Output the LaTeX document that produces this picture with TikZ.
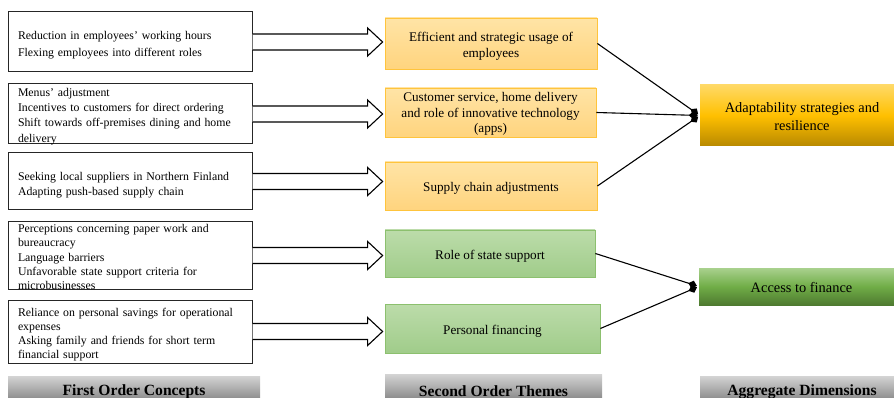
\documentclass[tikz,border=0pt]{standalone}
\usepackage{fontspec}
\setmainfont{Liberation Serif}
\usetikzlibrary{calc,arrows.meta}
\definecolor{orTop}{RGB}{255,228,166}
\definecolor{orBot}{RGB}{255,212,126}
\definecolor{orLine}{RGB}{255,196,60}
\definecolor{grTop}{RGB}{188,220,170}
\definecolor{grBot}{RGB}{160,204,138}
\definecolor{grLine}{RGB}{140,192,110}
\definecolor{adTop}{RGB}{255,217,102}
\definecolor{adMid}{RGB}{255,192,0}
\definecolor{adBot}{RGB}{184,137,0}
\definecolor{acTop}{RGB}{169,209,142}
\definecolor{acMid}{RGB}{112,173,71}
\definecolor{acBot}{RGB}{78,122,48}
\definecolor{hdTop}{RGB}{212,212,212}
\definecolor{hdBot}{RGB}{112,112,112}
\tikzset{
  concept/.style={draw=black!85, line width=1pt, rectangle, minimum width=244pt, inner sep=0pt},
  ctext/.style={text width=224pt, inner sep=0pt, align=left, font=\fontsize{11.8}{15.3}\selectfont},
  theme/.style={rectangle, draw, line width=0.8pt, inner sep=0pt},
  ttext/.style={inner sep=0pt, align=center, font=\fontsize{13.2}{15.5}\selectfont},
  orangebox/.style={theme, draw=orLine, top color=orTop, bottom color=orBot},
  greenbox/.style={theme, draw=grLine, top color=grTop, bottom color=grBot},
  aggr/.style={rectangle, inner sep=0pt, align=center, font=\fontsize{14.4}{18}\selectfont},
  header/.style={rectangle, inner sep=0pt, top color=hdTop, bottom color=hdBot, font=\bfseries\fontsize{15.6}{18}\selectfont},
  blockarr/.style={draw=black, line width=1.1pt, fill=white, line join=miter},
  conn/.style={draw=black, line width=1.1pt, -{Diamond[length=9pt,width=8pt]}, shorten >=2pt}
}
\begin{document}
\begin{tikzpicture}[x=1pt,y=-1pt]
\useasboundingbox (0,0) rectangle (894,398);
\clip (0,0) rectangle (894,398);
% first order concepts
\node[concept, minimum height=60pt] (l1) at (130,42) {};
\node[ctext] (t1) at ($(l1.center)+(0,3)$) {Reduction in employees’ working hours\\[2pt]Flexing employees into different roles};
\node[concept, minimum height=60pt] (l2) at (130,114) {};
\node[ctext] (t2) at ($(l2.center)+(0,2.5)$) {Menus’ adjustment\\Incentives to customers for direct ordering\\Shift towards off-premises dining and home\\delivery};
\node[concept, minimum height=57pt] (l3) at (130,181.5) {};
\node[ctext] (t3) at ($(l3.center)+(0,4)$) {Seeking local suppliers in Northern Finland\\Adapting push-based supply chain};
\node[concept, minimum height=67pt] (l4) at (130,255.5) {};
\node[ctext, font=\fontsize{11.8}{14.2}\selectfont] (t4) at ($(l4.center)+(0,1.5)$) {Perceptions concerning paper work and\\bureaucracy\\Language barriers\\Unfavorable state support criteria for\\microbusinesses};
\node[concept, minimum height=63pt] (l5) at (130,331.5) {};
\node[ctext, font=\fontsize{11.8}{14}\selectfont] (t5) at ($(l5.center)+(0,3)$) {Reliance on personal savings for operational\\expenses\\Asking family and friends for short term\\financial support};
% second order themes
\node[orangebox, minimum width=212pt, minimum height=51pt] (m1) at (491,43.5) {};
\node[ttext] (u1) at ($(m1.center)+(0,3)$) {Efficient and strategic usage of\\employees};
\node[orangebox, minimum width=211pt, minimum height=49pt] (m2) at (490.5,112.5) {};
\node[ttext] (u2) at ($(m2.center)+(0,1.5)$) {Customer service, home delivery\\and role of innovative technology\\(apps)};
\node[orangebox, minimum width=212pt, minimum height=48pt] (m3) at (491,186) {};
\node[ttext] (u3) at ($(m3.center)+(0,2)$) {Supply chain adjustments};
\node[greenbox, minimum width=210pt, minimum height=47pt] (m4) at (490,253.5) {};
\node[ttext] (u4) at ($(m4.center)+(0,3)$) {Role of state support};
\node[greenbox, minimum width=215pt, minimum height=49pt] (m5) at (492.5,328.5) {};
\node[ttext] (u5) at ($(m5.center)+(0,3)$) {Personal financing};
% aggregate dimensions
\node[aggr, minimum width=204pt, minimum height=61pt, top color=adTop, bottom color=adBot, middle color=adMid] (r1) at (802,115.5) {};
\node[aggr] (v1) at ($(r1.center)+(0,1.5)$) {Adaptability strategies and\\resilience};
\node[aggr, minimum width=205pt, minimum height=37pt, top color=acTop, bottom color=acBot, middle color=acMid] (r2) at (801.5,286.5) {};
\node[aggr] (v2) at ($(r2.center)+(0,1)$) {Access to finance};
% headers
\node[header, minimum width=252pt, minimum height=32pt] (h1) at (134,392) {First Order Concepts};
\node[header, minimum width=217pt, minimum height=34pt] (h2) at (493.5,391) {Second Order Themes};
\node[header, minimum width=204pt, minimum height=32pt] (h3) at (802,392) {Aggregate Dimensions};
% block arrows
\foreach \i in {1,...,5}{
  \path (l\i.east) coordinate (s\i) (m\i.west |- l\i.east) coordinate (e\i);
  \path[blockarr] ($(s\i)+(0,-8)$) -- ($(e\i)+(-17,-8)$) -- ($(e\i)+(-17,-14)$) -- ($(e\i)+(-2,0)$) -- ($(e\i)+(-17,14)$) -- ($(e\i)+(-17,8)$) -- ($(s\i)+(0,8)$);
}
% connectors
\draw[conn] (m1.east) -- (r1.west);
\draw[conn] (m2.east) -- (r1.west);
\draw[conn] (m3.east) -- (r1.west);
\draw[conn] (m4.east) -- (r2.west);
\draw[conn] (m5.east) -- (r2.west);
\end{tikzpicture}
\end{document}
